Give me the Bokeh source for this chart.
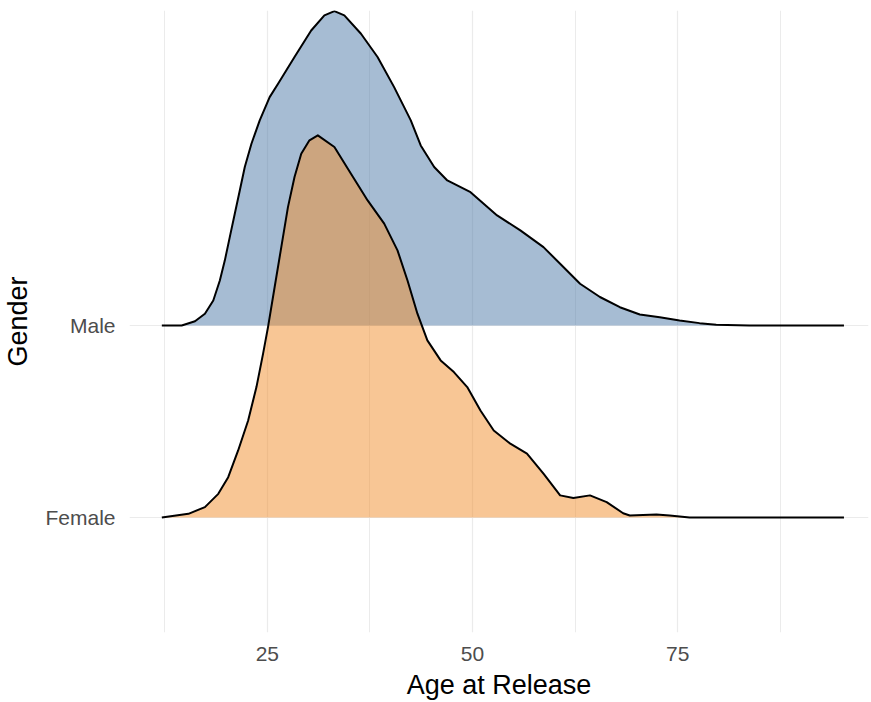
from bokeh.plotting import figure
from bokeh.models import Range1d, FixedTicker, ColumnDataSource
from bokeh.embed import file_html
from bokeh.resources import INLINE

# ---- data ----
categories = ["Female", "Male"]
baselines = [1, 2]

male_age = [12.14, 14.56, 16.18, 17.39, 18.41, 19.21, 19.82, 20.42, 21.03, 21.64, 22.25, 23.06,
            24.07, 25.28, 26.4, 28.31, 30.34, 31.95, 33.17, 34.38, 36.41, 38.43, 40.45, 42.48,
            43.69, 45.33, 46.93, 49.76, 53.0, 55.83, 58.65, 60.68, 63.11, 65.53, 67.96, 70.39,
            72.82, 75.24, 77.67, 79.7, 83.74, 95.27]
male_height = [0.0, 0.0, 0.022, 0.061, 0.130, 0.234, 0.339, 0.46, 0.582, 0.703, 0.825, 0.946,
               1.068, 1.189, 1.265, 1.398, 1.536, 1.615, 1.637, 1.615, 1.519, 1.398, 1.241, 1.068,
               0.9375, 0.825, 0.755, 0.694, 0.573, 0.495, 0.408, 0.321, 0.217, 0.148, 0.095, 0.057,
               0.043, 0.026, 0.012, 0.004, 0.0, 0.0]

female_age = [12.14, 15.38, 17.39, 19.02, 20.23, 21.44, 22.66, 23.67, 24.48, 25.08, 25.89, 26.7,
              27.51, 28.31, 29.13, 30.13, 31.15, 33.17, 35.19, 37.22, 39.24, 40.86, 42.08, 43.29,
              44.5, 46.12, 47.73, 49.36, 50.97, 52.59, 54.61, 56.64, 58.65, 60.68, 62.29, 64.32,
              66.35, 68.36, 69.17, 72.41, 74.03, 76.46, 95.27]
female_height = [0.0, 0.019, 0.054, 0.123, 0.21, 0.349, 0.505, 0.679, 0.853, 0.991, 1.2, 1.408,
                 1.616, 1.773, 1.894, 1.964, 1.99, 1.929, 1.79, 1.651, 1.53, 1.391, 1.234, 1.061,
                 0.922, 0.818, 0.757, 0.679, 0.557, 0.453, 0.384, 0.332, 0.228, 0.115, 0.101, 0.115,
                 0.080, 0.022, 0.010, 0.016, 0.010, 0.0, 0.0]

x_ticks = [25, 50, 75]
x_minor = [12.5, 37.5, 62.5, 87.5]

colors = {"Male": "#4E79A7", "Female": "#F28E2B"}

p = figure(width=871, height=702, output_backend="svg", toolbar_location=None,
           x_range=Range1d(8.2, 98.26), y_range=Range1d(0.401, 3.64),
           min_border_left=126, min_border_right=3, min_border_top=10, min_border_bottom=70)
p.outline_line_color = None
p.background_fill_color = "white"
p.border_fill_color = "white"

series = [("Male", 2, male_age, male_height), ("Female", 1, female_age, female_height)]
for name, base, ages, heights in series:
    src = ColumnDataSource(dict(x=ages, base=[base] * len(ages),
                                top=[base + h for h in heights]))
    p.varea(x="x", y1="base", y2="top", source=src, fill_color=colors[name], fill_alpha=0.5)
    p.line(x="x", y="top", source=src, line_color="black", line_width=2, line_join="round")

# axes
p.xaxis.ticker = FixedTicker(ticks=x_ticks, minor_ticks=x_minor)
p.yaxis.ticker = FixedTicker(ticks=baselines)
p.yaxis.major_label_overrides = {b: c for b, c in zip(baselines, categories)}
for ax in (p.xaxis, p.yaxis):
    ax.axis_line_color = None
    ax.major_tick_line_color = None
    ax.minor_tick_line_color = None
    ax.major_tick_out = 0
    ax.minor_tick_out = 0
    ax.major_label_text_font = "Liberation Sans"
    ax.major_label_text_font_size = "21px"
    ax.major_label_text_color = "#4d4d4d"
    ax.axis_label_text_font = "Liberation Sans"
    ax.axis_label_text_font_size = "27px"
    ax.axis_label_text_font_style = "normal"
    ax.axis_label_text_color = "black"
p.xaxis.axis_label = "Age at Release"
p.yaxis.axis_label = "Gender"
p.xaxis.major_label_standoff = 14
p.xaxis.axis_label_standoff = 6
p.yaxis.major_label_standoff = 14
p.yaxis.axis_label_standoff = 9

p.xgrid.grid_line_color = "#ebebeb"
p.xgrid.grid_line_width = 1.2
p.xgrid.minor_grid_line_color = "#ebebeb"
p.xgrid.minor_grid_line_width = 1.0
p.ygrid.grid_line_color = "#ebebeb"
p.ygrid.grid_line_width = 1.2

open("out.html", "w").write(file_html(p, INLINE))
